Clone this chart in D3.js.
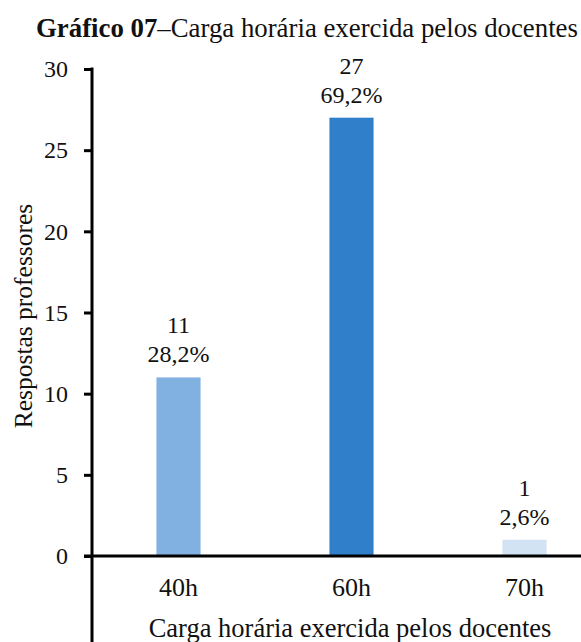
<!DOCTYPE html>
<html>
<head>
<meta charset="utf-8">
<script src="https://cdn.jsdelivr.net/npm/d3@7"></script>
<style>
  html, body { margin: 0; padding: 0; background: #fff; }
  svg { display: block; }
  svg text { fill: #111; }
</style>
</head>
<body>
<svg id="chart" width="581" height="642"></svg>
<script>
// Workload reported by teachers
const categories = ["40h", "60h", "70h"];
const counts = [11, 27, 1];
const percents = ["28,2%", "69,2%", "2,6%"];
const barColors = ["#80B1E1", "#2F7FCA", "#D2E3F3"];
const yTicks = [0, 5, 10, 15, 20, 25, 30];

const FONT = "'Liberation Serif', 'Times New Roman', serif";
const svg = d3.select("#chart");
const W = 581, H = 642;

const x = d3.scaleBand()
  .domain(categories)
  .range([92, 611])
  .paddingInner(0.745)
  .paddingOuter(0.3725);

const y = d3.scaleLinear()
  .domain([0, 30])
  .range([556, 69]);

// Title
const title = svg.append("text")
  .attr("x", 36)
  .attr("y", 37)
  .attr("font-family", FONT)
  .attr("font-size", 26.8);
title.append("tspan").attr("font-weight", "bold").text("Gráfico 07");
title.append("tspan").text("–Carga horária exercida pelos docentes");

// Bars
svg.selectAll("rect.bar")
  .data(categories)
  .join("rect")
  .attr("class", "bar")
  .attr("x", d => x(d))
  .attr("width", x.bandwidth())
  .attr("y", (d, i) => y(counts[i]))
  .attr("height", (d, i) => y(0) - y(counts[i]))
  .attr("fill", (d, i) => barColors[i]);

// Value labels: count and share
const labels = svg.selectAll("g.lbl")
  .data(categories)
  .join("g")
  .attr("class", "lbl")
  .attr("font-family", FONT)
  .attr("transform", (d, i) => `translate(${x(d) + x.bandwidth() / 2},${y(counts[i])})`);
labels.append("text")
  .attr("text-anchor", "middle")
  .attr("y", -44)
  .attr("font-size", 24)
  .text((d, i) => counts[i]);
labels.append("text")
  .attr("text-anchor", "middle")
  .attr("y", -15)
  .attr("font-size", 24)
  .text((d, i) => percents[i]);

// Y axis
const yAxis = d3.axisLeft(y)
  .tickValues(yTicks)
  .tickSize(8)
  .tickPadding(16)
  .tickFormat(d3.format("d"));
const gy = svg.append("g")
  .attr("transform", "translate(92,0)")
  .call(yAxis)
  .attr("font-family", FONT);
gy.select(".domain").remove();
gy.selectAll(".tick line").attr("stroke", "#000").attr("stroke-width", 3);
gy.selectAll(".tick text")
  .attr("font-size", 24)
  .attr("fill", "#111");
svg.append("line")
  .attr("x1", 92).attr("x2", 92)
  .attr("y1", y(30) - 1.5).attr("y2", H)
  .attr("stroke", "#000").attr("stroke-width", 3);

// X axis
const xAxis = d3.axisBottom(x).tickSize(0).tickPadding(22);
const gx = svg.append("g")
  .attr("transform", `translate(0,${y(0)})`)
  .call(xAxis)
  .attr("font-family", FONT);
gx.select(".domain").remove();
gx.selectAll(".tick text")
  .attr("font-size", 26)
  .attr("fill", "#111");
svg.append("line")
  .attr("x1", 84).attr("x2", W)
  .attr("y1", y(0)).attr("y2", y(0))
  .attr("stroke", "#000").attr("stroke-width", 3);

// Axis titles
svg.append("text")
  .attr("text-anchor", "middle")
  .attr("x", 350)
  .attr("y", 637)
  .attr("font-family", FONT)
  .attr("font-size", 26.5)
  .text("Carga horária exercida pelos docentes");

svg.append("text")
  .attr("text-anchor", "middle")
  .attr("transform", "translate(32,316) rotate(-90)")
  .attr("font-family", FONT)
  .attr("font-size", 25.5)
  .text("Respostas professores");
</script>
</body>
</html>
